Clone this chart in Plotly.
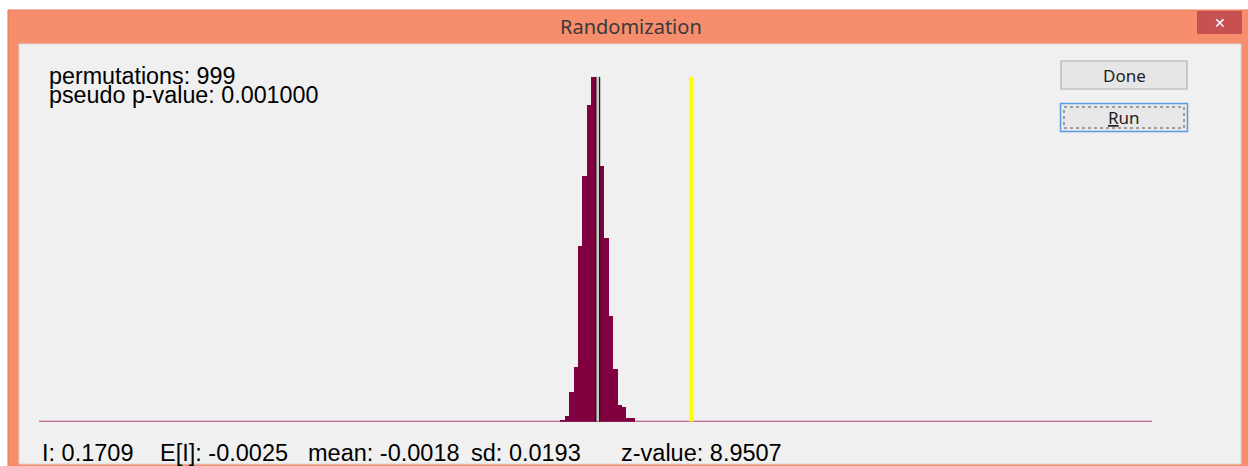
import plotly.graph_objects as go

# ---------------- data ----------------
bin_start = -0.0717          # left edge of first histogram bin
bin_width = 0.00815          # width of each bin
counts = [1, 3, 14, 26, 83, 116, 150, 163, 141, 121, 87, 50, 25, 8, 7, 2, 2]
observed_I = 0.1709
expected_I = -0.0025
x_range = [-1.0366, 1.0234]
y_max = max(counts)

header_lines = ["permutations: 999", "pseudo p-value: 0.001000"]
stat_labels = ["I: 0.1709", "E[I]: -0.0025", "mean: -0.0018", "sd: 0.0193", "z-value: 8.9507"]
stat_x = [40, 158, 306, 469, 619]

W, H = 1248, 466


def px(x):
    return x / W


def py(y):
    return 1 - y / H


centers = [bin_start + bin_width * (i + 0.5) for i in range(len(counts))]

fig = go.Figure()
fig.add_trace(go.Bar(x=centers, y=counts, width=bin_width,
                     marker=dict(color="#800040", line=dict(width=0)),
                     hoverinfo="skip"))
# mean / expected line (black outline, grey core)
fig.add_trace(go.Scatter(x=[expected_I, expected_I], y=[0, y_max], mode="lines",
                         line=dict(color="#1a1a1a", width=5), hoverinfo="skip"))
fig.add_trace(go.Scatter(x=[expected_I, expected_I], y=[0, y_max], mode="lines",
                         line=dict(color="#c8c8c8", width=2.6), hoverinfo="skip"))
# observed statistic line
fig.add_trace(go.Scatter(x=[observed_I, observed_I], y=[0, y_max], mode="lines",
                         line=dict(color="#ffff00", width=4.4), hoverinfo="skip"))

shapes = [
    # window frame
    dict(type="rect", xref="paper", yref="paper", x0=px(8), x1=px(1250), y0=py(10), y1=py(468),
         fillcolor="#f68d6c", line=dict(color="#e27a5a", width=1), layer="below"),
    # client area
    dict(type="rect", xref="paper", yref="paper", x0=px(19), x1=px(1241), y0=py(44), y1=py(464),
         fillcolor="#f0f0f0", line=dict(color="#d8d8d8", width=1), layer="below"),
    # close button
    dict(type="rect", xref="paper", yref="paper", x0=px(1197), x1=px(1242), y0=py(11), y1=py(34),
         fillcolor="#c75050", line=dict(width=0), layer="below"),
    # Done button
    dict(type="rect", xref="paper", yref="paper", x0=px(1061), x1=px(1187), y0=py(61), y1=py(89),
         fillcolor="#e6e6e6", line=dict(color="#adadad", width=1.2), layer="below"),
    # Run button
    dict(type="rect", xref="paper", yref="paper", x0=px(1060.5), x1=px(1187.5), y0=py(103.5), y1=py(131.5),
         fillcolor="#e8e8e8", line=dict(color="#5a9be6", width=1.5), layer="below"),
    dict(type="rect", xref="paper", yref="paper", x0=px(1064), x1=px(1184), y0=py(107), y1=py(128),
         fillcolor="rgba(0,0,0,0)", line=dict(color="#555555", width=1, dash="dot"), layer="below"),
    # histogram baseline
    dict(type="line", xref="paper", yref="y", x0=px(39), x1=px(1152), y0=0, y1=0,
         line=dict(color="#a8457a", width=2), layer="below"),
]

annotations = [
    dict(text="Randomization", x=px(631), y=py(27), xref="paper", yref="paper",
         showarrow=False, xanchor="center", yanchor="middle",
         font=dict(family="Noto Sans", size=20, color="#3a3a3a")),
    dict(text="✕", x=px(1219.5), y=py(22.5), xref="paper", yref="paper",
         showarrow=False, xanchor="center", yanchor="middle",
         font=dict(family="DejaVu Sans", size=14, color="#ffffff")),
    dict(text="Done", x=px(1124), y=py(75), xref="paper", yref="paper",
         showarrow=False, xanchor="center", yanchor="middle",
         font=dict(family="Noto Sans", size=17, color="#1e1e1e")),
    dict(text="<u>R</u>un", x=px(1124), y=py(117.5), xref="paper", yref="paper",
         showarrow=False, xanchor="center", yanchor="middle",
         font=dict(family="Noto Sans", size=17, color="#1e1e1e")),
]
for i, line in enumerate(header_lines):
    annotations.append(dict(text=line, x=px(47), y=py(76 + 19.5 * i), xref="paper", yref="paper",
                            showarrow=False, xanchor="left", yanchor="middle",
                            font=dict(family="Liberation Sans", size=23.3, color="#000000")))
for lab, xx in zip(stat_labels, stat_x):
    annotations.append(dict(text=lab, x=px(xx), y=py(453), xref="paper", yref="paper",
                            showarrow=False, xanchor="left", yanchor="middle",
                            font=dict(family="Liberation Sans", size=23.5, color="#000000")))

fig.update_layout(
    width=W, height=H, margin=dict(l=0, r=0, t=0, b=0),
    paper_bgcolor="#ffffff", plot_bgcolor="rgba(0,0,0,0)",
    showlegend=False, bargap=0,
    xaxis=dict(range=x_range, domain=[px(39), px(1152)], visible=False, fixedrange=True),
    yaxis=dict(range=[0, y_max], domain=[py(421.7), py(76.7)], visible=False, fixedrange=True),
    shapes=shapes, annotations=annotations,
)

fig.write_html("out.html", config={"displayModeBar": False},
               post_script="document.body.style.margin='0';document.body.style.overflow='hidden';")
